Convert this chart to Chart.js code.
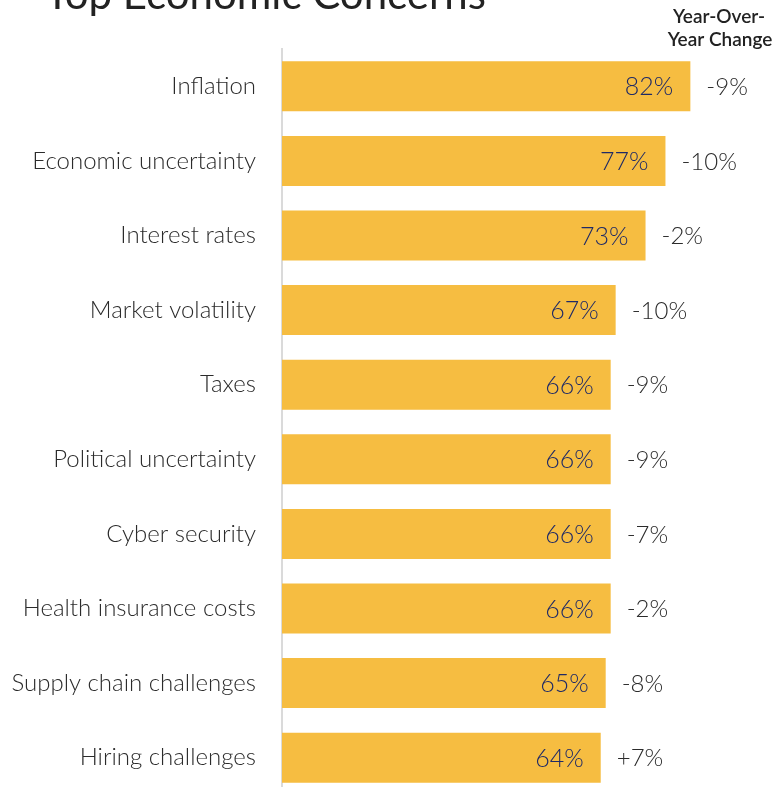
<!DOCTYPE html>
<html>
<head>
<meta charset="utf-8">
<script src="https://cdn.jsdelivr.net/npm/chart.js@4.4.1/dist/chart.umd.min.js"></script>
<style>
  html, body { margin: 0; padding: 0; background: #fff; overflow: hidden; }
  #chart { position: absolute; left: 0; top: -40px; }
</style>
</head>
<body>
<canvas id="chart" width="780" height="852"></canvas>
<script>
// Datos
const CATEGORIES = [
  "Inflation", "Economic uncertainty", "Interest rates", "Market volatility", "Taxes",
  "Political uncertainty", "Cyber security", "Health insurance costs",
  "Supply chain challenges", "Hiring challenges"
];
const SHARE   = [82, 77, 73, 67, 66, 66, 66, 66, 65, 64];
const YOY     = ["-9%", "-10%", "-2%", "-10%", "-9%", "-9%", "-7%", "-2%", "-8%", "+7%"];
const TITLE   = "Top Economic Concerns";
const HEADER  = ["Year-Over-", "Year Change"];

const FONT = "Lato, 'Open Sans', sans-serif";
const BAR_COLOR = "#F6BD41";

// Etiquetas: valor dentro de la barra + cambio interanual a la derecha, título y encabezado
const labelsPlugin = {
  id: "labels",
  afterDatasetsDraw(chart) {
    const { ctx } = chart;
    const meta = chart.getDatasetMeta(0);
    ctx.save();
    ctx.textBaseline = "middle";
    meta.data.forEach((bar, i) => {
      ctx.font = `300 25px ${FONT}`;
      ctx.fillStyle = "#1F2A66";
      ctx.textAlign = "right";
      ctx.fillText(SHARE[i] + "%", bar.x - 17, bar.y + 1);
      ctx.font = `300 24px ${FONT}`;
      ctx.fillStyle = "#2B2B2B";
      ctx.textAlign = "left";
      ctx.fillText(YOY[i], bar.x + 16, bar.y + 1);
    });

    // título (queda recortado arriba)
    ctx.textBaseline = "alphabetic";
    ctx.textAlign = "left";
    ctx.fillStyle = "#222";
    ctx.font = `42px ${FONT}`;
    ctx.fillText(TITLE, 45, 49);

    // encabezado de la columna de cambios
    ctx.textAlign = "center";
    ctx.textBaseline = "middle";
    ctx.font = `600 19px ${FONT}`;
    ctx.fillStyle = "#222";
    ctx.fillText(HEADER[0], 719, 57);
    ctx.fillText(HEADER[1], 720, 80);
    ctx.restore();
  }
};

new Chart(document.getElementById("chart"), {
  type: "bar",
  data: {
    labels: CATEGORIES,
    datasets: [{
      data: SHARE,
      backgroundColor: BAR_COLOR,
      categoryPercentage: 1,
      barPercentage: 0.67
    }]
  },
  options: {
    indexAxis: "y",
    responsive: false,
    animation: false,
    layout: { padding: { top: 89, bottom: 17, right: 0, left: 0 } },
    scales: {
      x: { display: false, min: 0, max: 100 },
      y: {
        afterFit: s => { s.width = 282; },
        // marcas invisibles: solo sirven para separar las etiquetas del eje
        grid: { display: true, drawOnChartArea: false, drawTicks: true, tickLength: 26, tickColor: "rgba(0,0,0,0)" },
        border: { display: true, color: "#DADADA", width: 2 },
        ticks: { color: "#2B2B2B", padding: 0, font: { family: FONT, size: 24, weight: 300 } }
      }
    },
    plugins: { legend: { display: false }, tooltip: { enabled: false } }
  },
  plugins: [labelsPlugin]
});
</script>
</body>
</html>
